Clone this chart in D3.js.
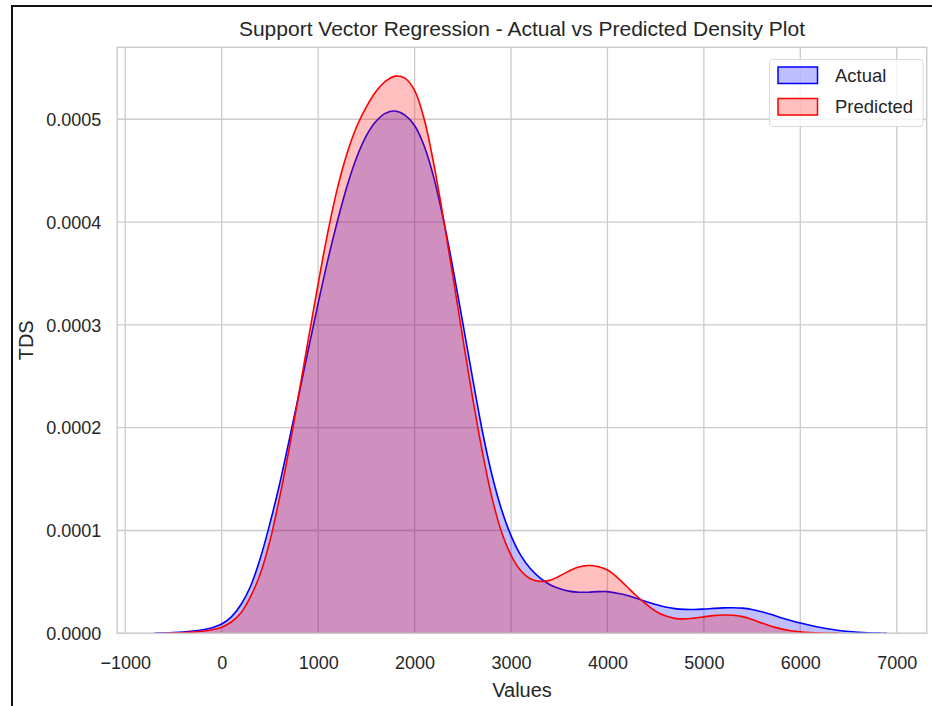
<!DOCTYPE html>
<html>
<head>
<meta charset="utf-8">
<script src="https://cdn.jsdelivr.net/npm/d3@7"></script>
<style>
  html, body { margin: 0; padding: 0; background: #ffffff; }
  svg { display: block; }
  text { font-family: "Liberation Sans", Arial, sans-serif; fill: #262626; }
</style>
</head>
<body>
<svg id="chart" width="932" height="706"></svg>
<script>
// Evaluation grid shared by both density estimates
const gridValues = [
  -700, -600, -500, -400, -300, -200, -100, 0, 100, 200,
  300, 400, 500, 600, 700, 800, 900, 1000, 1100, 1200,
  1300, 1400, 1500, 1600, 1700, 1800, 1900, 2000, 2100, 2200,
  2300, 2400, 2500, 2600, 2700, 2800, 2900, 3000, 3100, 3200,
  3300, 3400, 3500, 3600, 3700, 3800, 3900, 4000, 4100, 4200,
  4300, 4400, 4500, 4600, 4700, 4800, 4900, 5000, 5100, 5200,
  5300, 5400, 5500, 5600, 5700, 5800, 5900, 6000, 6100, 6200,
  6300, 6400, 6500, 6600, 6700, 6800, 6900];

// Density of the actual values (units of 1e-4)
const actualDensity = [
  0.000, 0.003, 0.007, 0.013, 0.022, 0.035, 0.055, 0.09, 0.16, 0.28,
  0.46, 0.73, 1.07, 1.45, 1.88, 2.32, 2.77, 3.21, 3.63, 4.01,
  4.35, 4.63, 4.84, 4.98, 5.06, 5.08, 5.04, 4.94, 4.74, 4.43,
  4.02, 3.54, 3.02, 2.49, 1.98, 1.55, 1.21, 0.95, 0.76, 0.63,
  0.54, 0.475, 0.435, 0.41, 0.40, 0.40, 0.405, 0.405, 0.39, 0.37,
  0.34, 0.31, 0.28, 0.255, 0.24, 0.233, 0.232, 0.236, 0.242, 0.247,
  0.249, 0.245, 0.232, 0.21, 0.182, 0.152, 0.125, 0.10, 0.078, 0.058,
  0.041, 0.027, 0.017, 0.010, 0.005, 0.002, 0.000];

// Density of the predicted values (units of 1e-4)
const predictedDensity = [
  0, 0, 0.002, 0.006, 0.012, 0.02, 0.035, 0.06, 0.11, 0.20,
  0.36, 0.58, 0.90, 1.32, 1.80, 2.33, 2.87, 3.40, 3.90, 4.33,
  4.67, 4.93, 5.12, 5.27, 5.37, 5.42, 5.40, 5.28, 5.00, 4.56,
  4.03, 3.46, 2.87, 2.30, 1.78, 1.33, 0.99, 0.76, 0.61, 0.53,
  0.505, 0.515, 0.555, 0.605, 0.645, 0.66, 0.65, 0.615, 0.545, 0.455,
  0.365, 0.285, 0.215, 0.17, 0.145, 0.14, 0.148, 0.16, 0.172, 0.178,
  0.176, 0.162, 0.135, 0.10, 0.068, 0.043, 0.025, 0.014, 0.007, 0.003,
  0.001, 0, 0, 0, 0, 0, 0];

const seriesNames = ["Actual", "Predicted"];
const seriesColors = ["#0000ff", "#ff0000"];
const xTicks = [-1000, 0, 1000, 2000, 3000, 4000, 5000, 6000, 7000];
const yTicks = [0, 0.0001, 0.0002, 0.0003, 0.0004, 0.0005];
const xDomain = [-1083, 7311];
const yDomain = [0, 0.000570];

const titleText = "Support Vector Regression - Actual vs Predicted Density Plot";
const xLabel = "Values";
const yLabel = "TDS";

const svg = d3.select("#chart");
const plot = { left: 117.3, right: 926.7, top: 47.3, bottom: 633.3 };

const x = d3.scaleLinear().domain(xDomain).range([plot.left, plot.right]);
const y = d3.scaleLinear().domain(yDomain).range([plot.bottom, plot.top]);

// outer frame
svg.append("rect")
  .attr("x", 12).attr("y", 6)
  .attr("width", 960).attr("height", 760)
  .attr("fill", "none").attr("stroke", "#111").attr("stroke-width", 2);

// grid
const grid = svg.append("g");
grid.selectAll("line.gx").data(xTicks).join("line")
  .attr("x1", d => x(d)).attr("x2", d => x(d))
  .attr("y1", plot.top).attr("y2", plot.bottom)
  .attr("stroke", "#cccccc").attr("stroke-width", 1.3);
grid.selectAll("line.gy").data(yTicks).join("line")
  .attr("x1", plot.left).attr("x2", plot.right)
  .attr("y1", d => y(d)).attr("y2", d => y(d))
  .attr("stroke", "#cccccc").attr("stroke-width", 1.3);

svg.append("clipPath").attr("id", "clip")
  .append("rect")
  .attr("x", plot.left).attr("y", plot.top)
  .attr("width", plot.right - plot.left).attr("height", plot.bottom - plot.top);

const curves = svg.append("g").attr("clip-path", "url(#clip)");

// keep the support of each estimate: drop the flat zero stretches at both ends
function support(ds) {
  let a = 0, b = ds.length - 1;
  while (a < b && ds[a + 1] === 0) a++;
  while (b > a && ds[b - 1] === 0) b--;
  const pts = [];
  for (let i = a; i <= b; i++) pts.push([gridValues[i], ds[i] * 1e-4]);
  return pts;
}

const series = [
  { pts: support(actualDensity), color: seriesColors[0] },
  { pts: support(predictedDensity), color: seriesColors[1] }
];

const area = d3.area().curve(d3.curveCatmullRom.alpha(0.5))
  .x(p => x(p[0])).y0(y(0)).y1(p => y(p[1]));
const line = d3.line().curve(d3.curveCatmullRom.alpha(0.5))
  .x(p => x(p[0])).y(p => y(p[1]));

series.forEach(s => {
  curves.append("path").datum(s.pts)
    .attr("d", area).attr("fill", s.color).attr("fill-opacity", 0.25);
  curves.append("path").datum(s.pts)
    .attr("d", line).attr("fill", "none")
    .attr("stroke", s.color).attr("stroke-width", 1.6);
});

// spines
svg.append("rect")
  .attr("x", plot.left).attr("y", plot.top)
  .attr("width", plot.right - plot.left).attr("height", plot.bottom - plot.top)
  .attr("fill", "none").attr("stroke", "#cccccc").attr("stroke-width", 1.5);

// tick labels
const xAxis = d3.axisBottom(x).tickValues(xTicks).tickSize(0).tickPadding(0)
  .tickFormat(d => d3.format("d")(d).replace("-", "\u2212"));
const gx = svg.append("g").attr("transform", `translate(0,${plot.bottom})`).call(xAxis);
gx.select(".domain").remove();
gx.selectAll("text").attr("dy", null).attr("y", 35.7)
  .style("font-size", "18px").style("fill", "#262626").attr("font-family", null);

const yAxis = d3.axisLeft(y).tickValues(yTicks).tickSize(0).tickPadding(0)
  .tickFormat(d3.format(".4f"));
const gy = svg.append("g").attr("transform", `translate(${plot.left},0)`).call(yAxis);
gy.select(".domain").remove();
gy.selectAll("text").attr("x", -16).attr("dy", "0.35em")
  .style("font-size", "18px").style("fill", "#262626").attr("font-family", null);

// title and axis labels
svg.append("text").attr("x", (plot.left + plot.right) / 2).attr("y", 36)
  .attr("text-anchor", "middle").style("font-size", "21px").text(titleText);
svg.append("text").attr("x", (plot.left + plot.right) / 2).attr("y", 697)
  .attr("text-anchor", "middle").style("font-size", "20px").text(xLabel);
svg.append("text").attr("transform", `translate(33,${(plot.top + plot.bottom) / 2}) rotate(-90)`)
  .attr("text-anchor", "middle").style("font-size", "20px").text(yLabel);

// legend
const lg = svg.append("g");
lg.append("rect").attr("x", 769.5).attr("y", 59.5).attr("width", 153.5).attr("height", 67)
  .attr("rx", 3).attr("fill", "#ffffff").attr("fill-opacity", 0.8)
  .attr("stroke", "#d9d9d9").attr("stroke-width", 1);
seriesNames.forEach((name, i) => {
  const yy = 67 + i * 31.5;
  lg.append("rect").attr("x", 778).attr("y", yy).attr("width", 39.5).attr("height", 16.5)
    .attr("fill", seriesColors[i]).attr("fill-opacity", 0.25)
    .attr("stroke", seriesColors[i]).attr("stroke-width", 1.5);
  lg.append("text").attr("x", 835).attr("y", yy + 8.25).attr("dy", "0.35em")
    .style("font-size", "18.5px").text(name);
});
</script>
</body>
</html>
